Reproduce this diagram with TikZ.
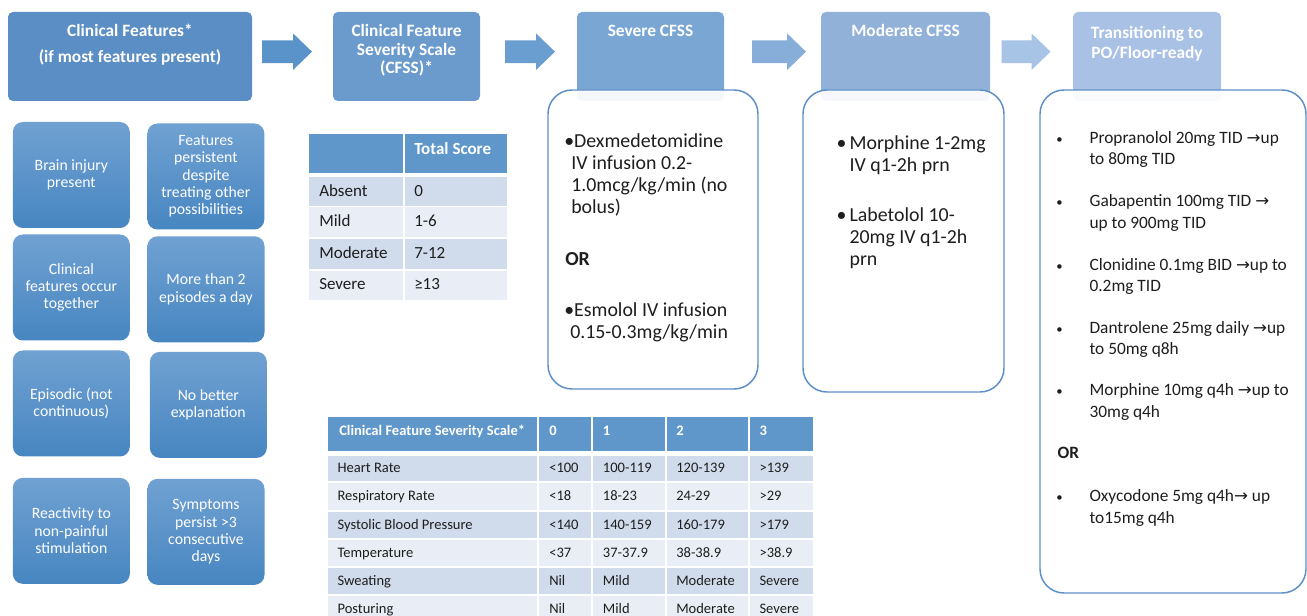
\documentclass[tikz,border=0pt]{standalone}
\usepackage{fontspec}
\setmainfont{Carlito}
\newfontfamily\dejavu{DejaVu Sans}
\usetikzlibrary{calc}
\newdimen\pxu \pxu=0.75pt
\newcommand\rarr{{\dejavu\fontsize{12.5}{12}\selectfont →}}
\newcommand\sbul{{\fontsize{9.5}{10}\selectfont •}}
\definecolor{hA}{HTML}{5B8EC4}
\definecolor{hB}{HTML}{6A9BCC}
\definecolor{hC}{HTML}{7AA6D3}
\definecolor{hD}{HTML}{91B1D9}
\definecolor{hE}{HTML}{A8C1E4}
\definecolor{aA}{HTML}{5A93C9}
\definecolor{aB}{HTML}{6A9ED1}
\definecolor{aC}{HTML}{86AED9}
\definecolor{aD}{HTML}{A7C3E6}
\definecolor{lbT}{HTML}{70A1D2}
\definecolor{lbB}{HTML}{4786C1}
\definecolor{thd}{HTML}{5F97CA}
\definecolor{rD}{HTML}{D0DCEC}
\definecolor{rL}{HTML}{E9EEF6}
\definecolor{edge}{HTML}{5D8FC7}
\definecolor{txt}{HTML}{1E1E1E}
\tikzset{
  hdr/.style={rectangle, rounded corners=5\pxu, inner sep=0pt, minimum height=89\pxu},
  htxt/.style={text=white, font=\bfseries\fontsize{13}{13.9}\selectfont, align=center, inner sep=0pt, anchor=base},
  lbox/.style={rectangle, rounded corners=10\pxu, top color=lbT, bottom color=lbB, text=white, align=center, inner sep=0pt, minimum width=117\pxu, minimum height=106\pxu, font=\fontsize{11.8}{13}\selectfont},
  wbox/.style={rectangle, rounded corners=24\pxu, draw=edge, line width=1.1pt, fill=white, fill opacity=0.92, inner sep=0pt},
  cellbg/.style={rectangle, draw=none, inner sep=0pt, outer sep=0pt},
  stxt/.style={anchor=west, inner sep=0pt, text height=1.38ex, text depth=0pt, text=txt, font=\fontsize{12.75}{14}\selectfont},
  btxt/.style={anchor=west, inner sep=0pt, text height=1.38ex, text depth=0pt, text=txt, font=\fontsize{10.9}{12}\selectfont},
  bhtxt/.style={btxt, text=white, font=\bfseries\fontsize{10.9}{12}\selectfont},
  mtxt/.style={anchor=base west, inner sep=0pt, align=left, text=txt, font=\fontsize{14.9}{16.5}\selectfont},
  rtxt/.style={anchor=base west, inner sep=0pt, align=left, text=txt, font=\fontsize{13}{16.1}\selectfont},
}
\newcommand\tcell[6]{\node[cellbg, fill=#6, minimum width={(#4-#2)*0.75pt}, minimum height={(#5-#3)*0.75pt}] (#1) at ({(#2+#4)/2},{(#3+#5)/2}) {};}
\newcommand\blockarrow[4]{%
  \coordinate (#1) at (#2,51.7);
  \fill[#4] (#1) ++(0,-11.35) -- ++({#3-19},0) -- ++(0,-7) -- ++(19,18.35) -- ++(-19,18.35) -- ++(0,-7) -- ++({-(#3-19)},0) -- cycle;}
\newcommand\brow[9]{%
  \tcell{b#1a}{328.3}{#2}{537.3}{#3}{#4}
  \tcell{b#1b}{539}{#2}{590.7}{#3}{#4}
  \tcell{b#1c}{592.7}{#2}{665}{#3}{#4}
  \tcell{b#1d}{666.7}{#2}{747.7}{#3}{#4}
  \tcell{b#1e}{750}{#2}{812.7}{#3}{#4}
  \node[btxt] (t#1a) at (337.3,{(#2+#3)/2}) {#5};
  \node[btxt] (t#1b) at (549,{(#2+#3)/2}) {#6};
  \node[btxt] (t#1c) at (602.7,{(#2+#3)/2}) {#7};
  \node[btxt] (t#1d) at (676,{(#2+#3)/2}) {#8};
  \node[btxt] (t#1e) at (759.3,{(#2+#3)/2}) {#9};}
\newcommand\srow[6]{%
  \tcell{s#1a}{309.3}{#2}{402.7}{#3}{#4}
  \tcell{s#1b}{405.3}{#2}{506.7}{#3}{#4}
  \node[stxt] (u#1a) at (319,{(#2+#3)/2}) {#5};
  \node[stxt] (u#1b) at (414,{(#2+#3)/2}) {#6};}
\begin{document}
\begin{tikzpicture}[x=0.75pt,y=-0.75pt]
\useasboundingbox (0,0) rectangle (1307,616);
\fill[white] (0,0) rectangle (1307,616);
% header boxes
\node[hdr, fill=hA, minimum width=244\pxu] (h1) at (130,56.5) {};
\node[hdr, fill=hB, minimum width=147\pxu] (h2) at (406.5,56.5) {};
\node[hdr, fill=hC, minimum width=147\pxu] (h3) at (650.5,56.5) {};
\node[hdr, fill=hD, minimum width=169\pxu] (h4) at (905.5,56.5) {};
\node[hdr, fill=hE, minimum width=148\pxu] (h5) at (1147,56.5) {};
\node[htxt] (h1a) at (130,37) {Clinical Features*};
\node[htxt] (h1b) at (130,63) {(if most features present)};
\node[htxt] (h2t) at (406.5,74) {Clinical Feature\\Severity Scale\\(CFSS)*};
\node[htxt] (h3t) at (650.5,37) {Severe CFSS};
\node[htxt] (h4t) at (905.5,37) {Moderate CFSS};
\node[htxt] (h5t) at (1147,58.7) {Transitioning to\\[2\pxu]PO/Floor-ready};
% block arrows
\blockarrow{a1}{262}{50}{aA}
\blockarrow{a2}{505}{50}{aB}
\blockarrow{a3}{752}{54}{aC}
\blockarrow{a4}{1001.5}{49}{aD}
% feature boxes
\node[lbox] (f1) at (71.35,175) {Brain injury\\present};
\node[lbox] (f2) at (205.85,176.5) {Features\\persistent\\despite\\treating other\\possibilities};
\node[lbox] (f3) at (71.35,287.5) {Clinical\\features occur\\together};
\node[lbox] (f4) at (206,289.3) {More than 2\\episodes a day};
\node[lbox] (f5) at (71.35,403.5) {Episodic (not\\continuous)};
\node[lbox] (f6) at (208.35,404.85) {No better\\explanation};
\node[lbox] (f7) at (71.35,530.85) {Reactivity to\\non-painful\\stimulation};
\node[lbox] (f8) at (206,531.85) {Symptoms\\persist >3\\consecutive\\days};
% white treatment boxes
\node[wbox, minimum width=210\pxu, minimum height=299\pxu] (sev) at (653,239.5) {};
\node[wbox, minimum width=201\pxu, minimum height=302\pxu] (mod) at (903.5,241) {};
\node[wbox, minimum width=266\pxu, minimum height=503\pxu] (po) at (1173,341.5) {};
% severe
\node[mtxt] (s1) at (564,213.7) {•Dexmedetomidine\\\hspace*{7\pxu}IV infusion 0.2-\\\hspace*{7\pxu}1.0mcg/kg/min (no\\\hspace*{7\pxu}bolus)};
\node[mtxt, font=\bfseries\fontsize{14.9}{16.5}\selectfont] (s2) at (565,266) {OR};
\node[mtxt] (s3) at (564,339) {•Esmolol IV infusion\\\hspace*{6\pxu}0.15-0.3mg/kg/min};
% moderate
\node[mtxt] (m1) at (849.3,171.3) {\llap{•\hspace{3\pxu}}Morphine 1-2mg\\IV q1-2h prn};
\node[mtxt] (m2) at (849.3,266) {\llap{•\hspace{3\pxu}}Labetolol 10-\\20mg IV q1-2h\\prn};
% transitioning
\node[rtxt] (p1) at (1089.3,165) {\llap{\sbul\hspace{27\pxu}}Propranolol 20mg TID \rarr up\\to 80mg TID};
\node[rtxt] (p2) at (1089.3,228.2) {\llap{\sbul\hspace{27\pxu}}Gabapentin 100mg TID \rarr\\up to 900mg TID};
\node[rtxt] (p3) at (1089.3,291.5) {\llap{\sbul\hspace{27\pxu}}Clonidine 0.1mg BID \rarr up to\\0.2mg TID};
\node[rtxt] (p4) at (1089.3,354.8) {\llap{\sbul\hspace{27\pxu}}Dantrolene 25mg daily \rarr up\\to 50mg q8h};
\node[rtxt] (p5) at (1089.3,417.2) {\llap{\sbul\hspace{27\pxu}}Morphine 10mg q4h \rarr up to\\30mg q4h};
\node[rtxt, font=\bfseries\fontsize{13}{16.1}\selectfont] (p6) at (1057.3,459) {OR};
\node[rtxt] (p7) at (1089.3,523.2) {\llap{\sbul\hspace{27\pxu}}Oxycodone 5mg q4h\rarr\ up\\to15mg q4h};
% small table
\tcell{s0a}{309.3}{134}{402.7}{172.7}{thd}
\tcell{s0b}{405.3}{134}{506.7}{172.7}{thd}
\node[stxt, text=white, font=\bfseries\fontsize{12.75}{14}\selectfont] (u0b) at (414,150) {Total Score};
\srow{1}{177.3}{206}{rD}{Absent}{0}
\srow{2}{207.3}{236.7}{rL}{Mild}{1-6}
\srow{3}{238.7}{268.7}{rD}{Moderate}{7-12}
\srow{4}{270.7}{300}{rL}{Severe}{≥13}
% big table
\tcell{b0a}{328.3}{417.3}{537.3}{450.7}{thd}
\tcell{b0b}{539}{417.3}{590.7}{450.7}{thd}
\tcell{b0c}{592.7}{417.3}{665}{450.7}{thd}
\tcell{b0d}{666.7}{417.3}{747.7}{450.7}{thd}
\tcell{b0e}{750}{417.3}{812.7}{450.7}{thd}
\node[bhtxt] (t0a) at (339,431) {Clinical Feature Severity Scale*};
\node[bhtxt] (t0b) at (549,431) {0};
\node[bhtxt] (t0c) at (602.7,431) {1};
\node[bhtxt] (t0d) at (676,431) {2};
\node[bhtxt] (t0e) at (759.3,431) {3};
\brow{1}{455.7}{480.7}{rD}{Heart Rate}{<100}{100-119}{120-139}{>139}
\brow{2}{482.7}{510}{rL}{Respiratory Rate}{<18}{18-23}{24-29}{>29}
\brow{3}{512}{537.7}{rD}{Systolic Blood Pressure}{<140}{140-159}{160-179}{>179}
\brow{4}{540}{566}{rL}{Temperature}{<37}{37-37.9}{38-38.9}{>38.9}
\brow{5}{568}{594}{rD}{Sweating}{Nil}{Mild}{Moderate}{Severe}
\brow{6}{596}{623}{rL}{Posturing}{Nil}{Mild}{Moderate}{Severe}
\end{tikzpicture}
\end{document}
